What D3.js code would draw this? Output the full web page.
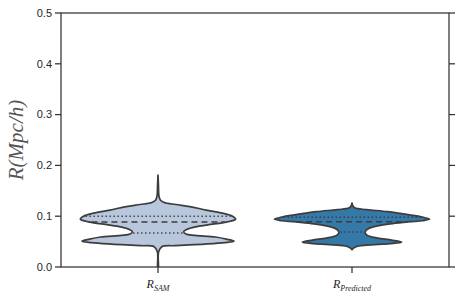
<!DOCTYPE html>
<html>
<head>
<meta charset="UTF-8">
<script src="https://cdn.jsdelivr.net/npm/d3@7"></script>
<style>
  body { margin: 0; background: #fff; }
  svg { display: block; }
</style>
</head>
<body>
<script>
// categories
var categories = ["SAM", "Predicted"];
var colors = ["#b9c7dd", "#3579a9"];

// violin outline: value -> relative density (0..1)
var samValues = [0.181, 0.16, 0.14, 0.132, 0.127, 0.123, 0.119, 0.112, 0.106, 0.100, 0.094, 0.090, 0.087, 0.083, 0.079, 0.074, 0.0695, 0.065, 0.059, 0.055, 0.051, 0.048, 0.045, 0.042, 0.040, 0.030, 0.0, -0.01];
var samDensity = [0, 0.006, 0.012, 0.03, 0.08, 0.23, 0.41, 0.62, 0.83, 0.96, 1.0, 0.93, 0.83, 0.64, 0.48, 0.37, 0.33, 0.36, 0.74, 0.88, 0.98, 0.86, 0.6, 0.22, 0.05, 0.008, 0.006, 0];

var predValues = [0.126, 0.120, 0.116, 0.113, 0.109, 0.105, 0.101, 0.097, 0.094, 0.091, 0.088, 0.085, 0.081, 0.077, 0.072, 0.067, 0.062, 0.057, 0.053, 0.049, 0.046, 0.043, 0.040, 0.037, 0.034];
var predDensity = [0, 0.012, 0.04, 0.19, 0.46, 0.64, 0.81, 0.94, 1.0, 0.9, 0.67, 0.49, 0.33, 0.23, 0.18, 0.17, 0.2, 0.33, 0.51, 0.64, 0.49, 0.19, 0.05, 0.02, 0];

// quartiles [q1, median, q3]
var samQuartiles = [0.067, 0.0886, 0.100];
var predQuartiles = [0.069, 0.089, 0.098];

var yTicks = [0.0, 0.1, 0.2, 0.3, 0.4, 0.5];

var violins = [
  { name: categories[0], values: samValues, density: samDensity, q: samQuartiles, color: colors[0] },
  { name: categories[1], values: predValues, density: predDensity, q: predQuartiles, color: colors[1] }
];

var width = 458, height = 303;
var margin = { top: 13, right: 9, bottom: 36, left: 61 };
var iw = width - margin.left - margin.right;
var ih = height - margin.top - margin.bottom;

var svg = d3.select("body").append("svg")
    .attr("width", width)
    .attr("height", height);

var g = svg.append("g").attr("transform", "translate(" + margin.left + "," + margin.top + ")");

var x = d3.scaleBand().domain(categories).range([0, iw]);
var y = d3.scaleLinear().domain([0, 0.5]).range([ih, 0]);
var halfWidth = x.bandwidth() * 0.4;
var w = d3.scaleLinear().domain([0, 1]).range([0, halfWidth]);

svg.append("clipPath").attr("id", "plotclip")
    .append("rect").attr("width", iw).attr("height", ih);

var plot = g.append("g").attr("clip-path", "url(#plotclip)");

// width at a value, linear between read points
function widthAt(v, d) {
  for (var i = 0; i < d.values.length - 1; i++) {
    var a = d.values[i], b = d.values[i + 1];
    if (v <= a && v >= b) {
      var t = (a - v) / (a - b);
      return w(d.density[i] + t * (d.density[i + 1] - d.density[i]));
    }
  }
  return 0;
}

violins.forEach(function (d) {
  var cx = x(d.name) + x.bandwidth() / 2;
  var pts = d.values.map(function (v, i) { return [v, d.density[i]]; });
  var area = d3.area()
      .curve(d3.curveCatmullRom.alpha(0.5))
      .y(function (p) { return y(p[0]); })
      .x0(function (p) { return cx - w(p[1]); })
      .x1(function (p) { return cx + w(p[1]); });

  plot.append("path")
      .datum(pts)
      .attr("d", area)
      .attr("fill", d.color)
      .attr("stroke", "#3d3d3d")
      .attr("stroke-width", 1.7)
      .attr("stroke-linejoin", "round");

  // quartile lines: dotted q1/q3, dashed median
  d.q.forEach(function (qv, i) {
    var hw = widthAt(qv, d) - 2;
    plot.append("line")
        .attr("x1", cx - hw).attr("x2", cx + hw)
        .attr("y1", y(qv)).attr("y2", y(qv))
        .attr("stroke", "#3d3d3d")
        .attr("stroke-width", 1.5)
        .attr("stroke-dasharray", i == 1 ? "6,4" : "1.4,2.6");
  });
});

// spines
g.append("rect")
    .attr("width", iw).attr("height", ih)
    .attr("fill", "none")
    .attr("stroke", "#333")
    .attr("stroke-width", 1.25);

// y axis ticks, left and right
var tickFmt = d3.format(".1f");
yTicks.forEach(function (t) {
  g.append("line").attr("x1", -6).attr("x2", 0).attr("y1", y(t)).attr("y2", y(t))
      .attr("stroke", "#333").attr("stroke-width", 1.25);
  g.append("line").attr("x1", iw).attr("x2", iw + 6).attr("y1", y(t)).attr("y2", y(t))
      .attr("stroke", "#333").attr("stroke-width", 1.25);
  g.append("text")
      .attr("x", -9).attr("y", y(t)).attr("dy", "0.35em")
      .attr("text-anchor", "end")
      .attr("font-family", "Liberation Sans, Arial, sans-serif")
      .attr("font-size", 11)
      .attr("fill", "#262626")
      .text(tickFmt(t));
});

// x ticks and labels
categories.forEach(function (c) {
  var cx = x(c) + x.bandwidth() / 2;
  g.append("line").attr("x1", cx).attr("x2", cx).attr("y1", ih).attr("y2", ih + 6)
      .attr("stroke", "#333").attr("stroke-width", 1.25);
  var t = g.append("text")
      .attr("x", cx).attr("y", ih + 21)
      .attr("text-anchor", "middle")
      .attr("font-family", "Liberation Serif, DejaVu Serif, serif")
      .attr("font-style", "italic")
      .attr("font-size", 12)
      .attr("fill", "#262626");
  t.append("tspan").text("R");
  t.append("tspan").attr("font-size", 8).attr("dy", 3).text(c);
});

// y label
svg.append("text")
    .attr("transform", "translate(23," + (margin.top + ih / 2) + ") rotate(-90)")
    .attr("text-anchor", "middle")
    .attr("font-family", "Liberation Serif, DejaVu Serif, serif")
    .attr("font-style", "italic")
    .attr("font-size", 21)
    .attr("fill", "#555")
    .text("R(Mpc/h)");
</script>
</body>
</html>
